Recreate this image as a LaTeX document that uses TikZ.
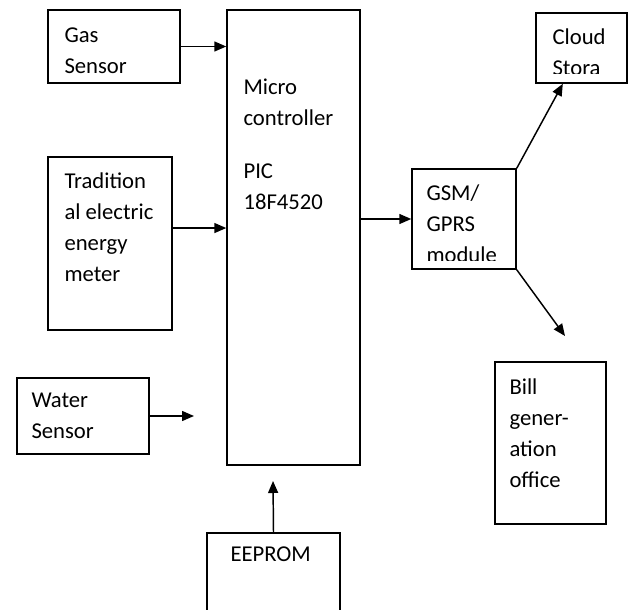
\documentclass[tikz,border=0pt]{standalone}
\usepackage{fontspec}
\setmainfont{Carlito}
\usetikzlibrary{arrows.meta,positioning}

\begin{document}
\begin{tikzpicture}[x=0.75pt,y=-0.75pt,font=\fontsize{17}{23.25}\selectfont,>={Triangle[length=9pt,width=7.5pt]},
 box/.style 2 args={draw,line width=1.1pt,minimum width=#1*0.75pt,minimum height=#2*0.75pt,inner sep=0pt},
 lbl/.style={anchor=base west,align=left,inner sep=0pt},
 link/.style={->,line width=1.1pt}]
\useasboundingbox (0,0) rectangle (629,610);
\clip (0,0) rectangle (629,610);
\node[box={132}{73}] (gas) at (114,46.5) {};
\node[box={133}{455}] (mcu) at (293.5,237.5) {};
\node[box={124}{173}] (meter) at (110,243.5) {};
\node[box={132}{76}] (water) at (83,416) {};
\node[box={91}{70}] (cloud) at (581.5,48) {};
\node[box={104}{100}] (gsm) at (464,219) {};
\node[box={133}{107}] (eeprom) at (273.5,586.5) {};
\node[box={111}{162}] (bill) at (550.5,443) {};
\node[lbl] (gastxt) at ([shift={(17,64)}]gas.north west) {Gas\\Sensor};
\node[lbl] (mcutxt) at ([shift={(17,200)}]mcu.north west) {Micro\\controller\\[16.5pt]PIC\\18F4520};
\node[lbl] (metertxt) at ([shift={(17,125)}]meter.north west) {Tradition\\al electric\\energy\\meter};
\node[lbl] (watertxt) at ([shift={(15,61)}]water.north west) {Water\\Sensor};
\begin{scope}
\clip (cloud.north west) rectangle ([yshift=7.5pt]cloud.south east);
\node[lbl] (cloudtxt) at ([shift={(17,63)}]cloud.north west) {Cloud\\Stora};
\end{scope}
\begin{scope}
\clip (gsm.north west) rectangle ([yshift=7pt]gsm.south east);
\node[lbl] (gsmtxt) at ([shift={(15,94)}]gsm.north west) {GSM/\\GPRS\\module};
\end{scope}
\node[lbl] (eepromtxt) at ([shift={(24,29)}]eeprom.north west) {EEPROM};
\node[lbl] (billtxt) at ([shift={(15,126)}]bill.north west) {Bill\\gener-\\ation\\office};
\coordinate (wend) at (194,416);
\coordinate (gend) at (565,336);
\coordinate (eend) at (273,481);
\draw[link] (gas.east) -- (gas.east -| mcu.west);
\draw[link] ([yshift=11.6pt]meter.east) -- ([yshift=11.6pt]meter.east -| mcu.west);
\draw[link] (water.east) -- (wend);
\draw[link] (mcu.east |- gsm.west) -- (gsm.west);
\draw[link] (gsm.north east) -- ([xshift=-14pt]cloud.south);
\draw[link] (gsm.south east) -- (gend);
\draw[link] (eeprom.north) -- (eend);
\end{tikzpicture}
\end{document}
